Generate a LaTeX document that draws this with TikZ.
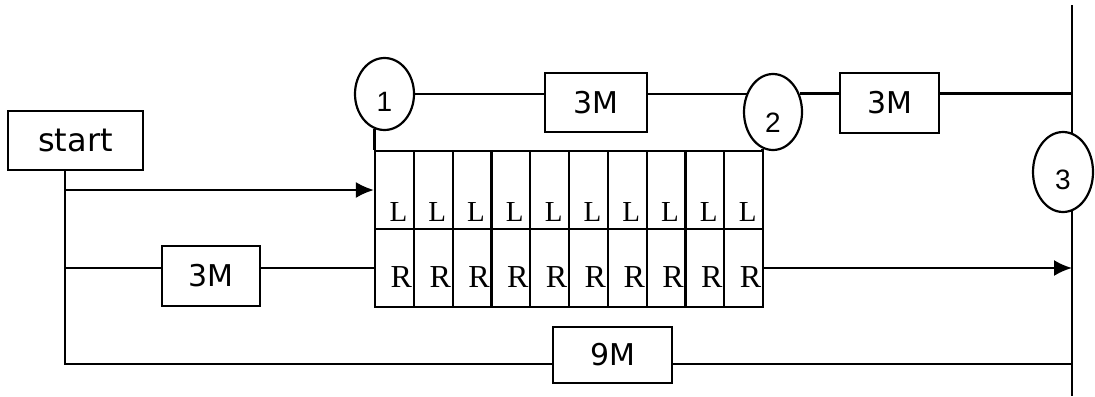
\documentclass[tikz,border=0pt]{standalone}
\usepackage{fontspec}
\setmainfont{Liberation Serif}
\newfontfamily\etich{DejaVu Sans}
\newfontfamily\numf{Liberation Sans}
\usetikzlibrary{arrows.meta,shapes.geometric}

\begin{document}
\begin{tikzpicture}[x=0.5pt,y=-0.5pt,>={Latex[length=9pt,width=8pt]},
		linea/.style={line width=1.1pt},
		blocco/.style={draw, line width=1.1pt, inner sep=0pt, font=\etich\fontsize{15}{18}\selectfont},
		stato/.style={draw, ellipse, line width=1.1pt, inner sep=0pt},
		numero/.style={inner sep=0pt, font=\numf\fontsize{14}{17}\selectfont},
		cella/.style={draw, line width=1.1pt, minimum width=19.4pt, minimum height=39pt, inner sep=0pt},
		lettera/.style={inner sep=0pt, font=\fontsize{14.5}{17}\selectfont},
		]
		\useasboundingbox (0,0) rectangle (1095,396);
		% ── Parametri griglia ──
		\def\xg{375}      % bordo sinistro della griglia
		\def\dc{38.8}     % larghezza di una cella
		
		% ── Blocchi ──
		\node[blocco, minimum width=67.5pt, minimum height=29.5pt,
		font=\etich\fontsize{16}{19}\selectfont] (start) at (75.5,140.5) {start\hspace{8pt}};
		\node[blocco, minimum width=51pt, minimum height=29.5pt] (m3a) at (596,102.5) {3M};
		\node[blocco, minimum width=49.5pt, minimum height=30pt] (m3b) at (889.5,103) {3M};
		\node[blocco, minimum width=49pt, minimum height=30pt] (m3c) at (211,276) {3M};
		\node[blocco, minimum width=59.5pt, minimum height=28pt] (m9) at (612.5,355) {9M};
		
		% ── Stati ──
		\node[stato, minimum width=29.5pt, minimum height=36pt] (c1) at (384.5,94) {};
		\node[stato, minimum width=29pt, minimum height=38pt] (c2) at (773,112) {};
		\node[stato, minimum width=30pt, minimum height=40pt] (c3) at (1063,172) {};
		\node[numero] (n1) at ([yshift=-4pt]c1.center) {1};
		\node[numero] (n2) at ([yshift=-5.5pt]c2.center) {2};
		\node[numero] (n3) at ([yshift=-4pt]c3.center) {3};
		
		% ── Griglia L/R ──
		\foreach \i in {1,...,10}{
			\node[cella] (L\i) at ({\xg+(\i-0.5)*\dc},190) {};
			\node[cella] (R\i) at ({\xg+(\i-0.5)*\dc},268) {};
			\node[lettera] (l\i) at ([xshift=2pt,yshift=-11pt]L\i.center) {L};
			\node[lettera, font=\fontsize{16}{19}\selectfont] (r\i) at ([xshift=3.5pt,yshift=-4.5pt]R\i.center) {R};
		}
		
		% ── Punti liberi ──
		\coordinate (vtop) at (1072,5);
		\coordinate (vbot) at (1072,396);
		\coordinate (nodo) at (65,170);
		\coordinate (basso) at (65,364);
		
		% ── Collegamenti ──
		\draw[linea] (vtop) -- (vtop |- c3.77);
		\draw[linea] (vbot |- c3.-77) -- (vbot);
		\draw[linea] (nodo) -- (basso) -- (basso -| m9.west);
		\draw[linea] (basso -| m9.east) -- (basso -| vbot);
		\draw[linea, ->] (nodo |- L1.west) -- (L1.west);
		\draw[linea] (nodo |- R1.west) -- (R1.west -| m3c.west);
		\draw[linea] (R1.west -| m3c.east) -- (R1.west);
		\draw[linea, ->] (R10.east) -- (R10.east -| vbot);
		\draw[linea] (c1.east) -- (c1.east -| m3a.west);
		\draw[linea] (c1.east -| m3a.east) -- (c1.east -| c2.145);
		\draw[linea] (c2.35) -- (c2.35 -| m3b.west);
		\draw[linea] (c2.35 -| m3b.east) -- (c2.35 -| vtop);
		\draw[linea] (c1.-106) -- (c1.-106 |- L1.north);
		\draw[linea] (c2.-106) -- (c2.-106 |- L10.north);
		
\end{tikzpicture}
\end{document}
